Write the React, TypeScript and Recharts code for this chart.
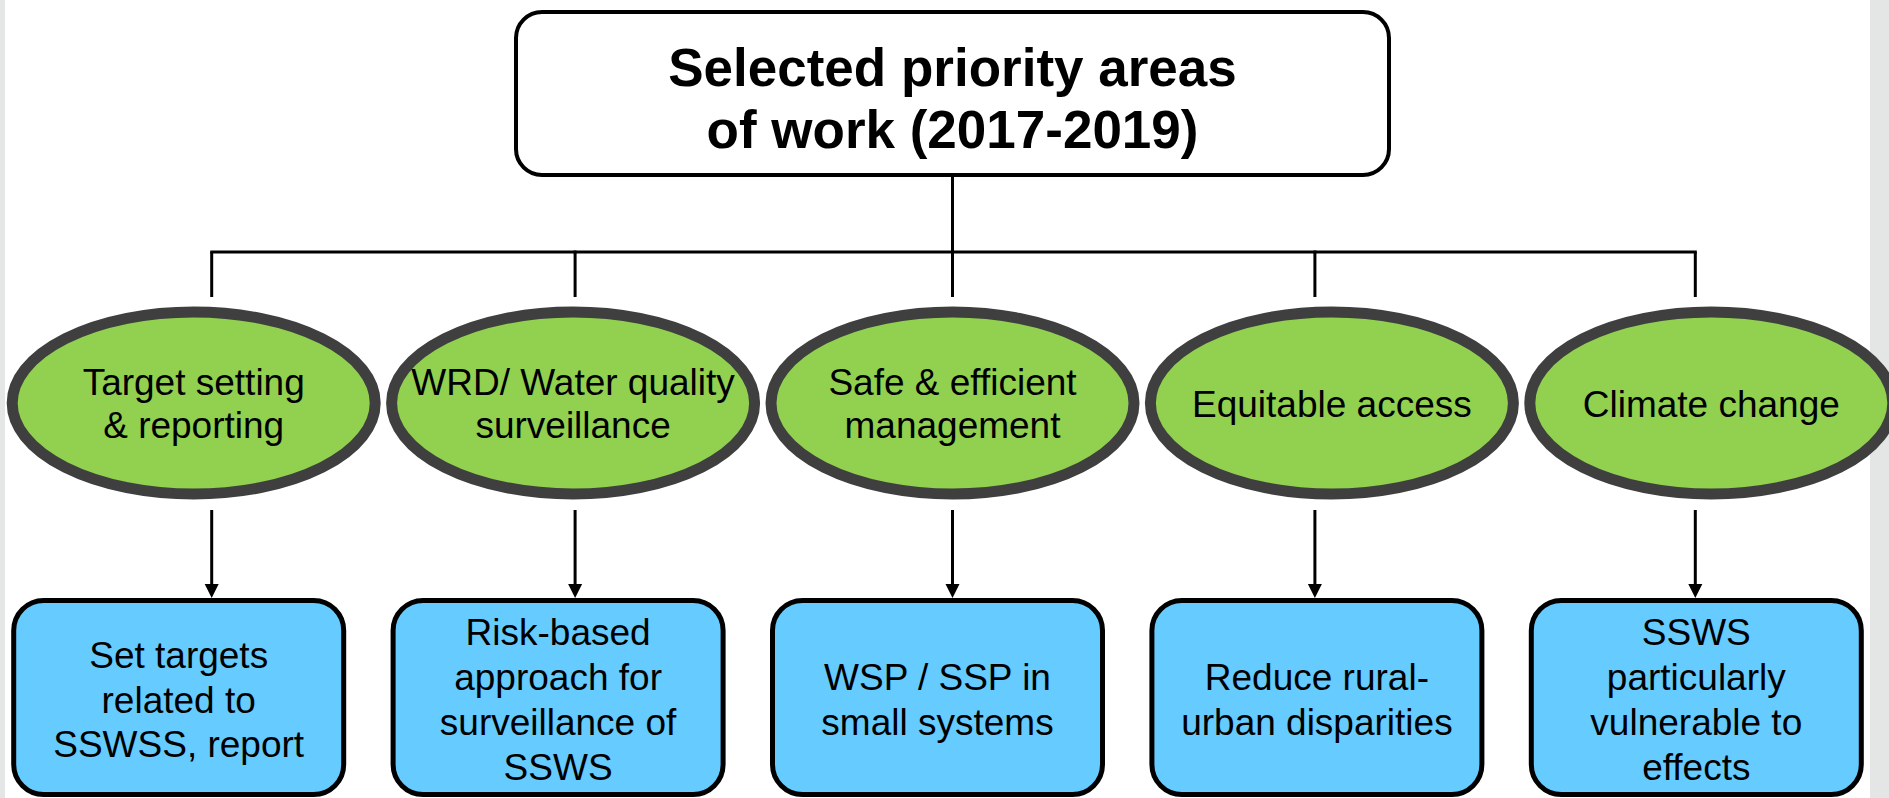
import React from 'react';
import { ScatterChart, Scatter, XAxis, YAxis } from 'recharts';

// hierarchy text, one entry per line
const titleLines = ['Selected priority areas', 'of work (2017-2019)'];

const areaLines: string[][] = [
  ['Target setting', '& reporting'],
  ['WRD/ Water quality', 'surveillance'],
  ['Safe & efficient', 'management'],
  ['Equitable access'],
  ['Climate change'],
];

const outcomeLines: string[][] = [
  ['Set targets', 'related to', 'SSWSS, report'],
  ['Risk-based', 'approach for', 'surveillance of', 'SSWS'],
  ['WSP / SSP in', 'small systems'],
  ['Reduce rural-', 'urban disparities'],
  ['SSWS', 'particularly', 'vulnerable to', 'effects'],
];

const areas = areaLines.map((l) => l.join(' '));

const titleData = [{ area: areas[2], level: 0, lines: titleLines }];
const areaData = areas.map((a, i) => ({ area: a, level: 1, lines: areaLines[i], idx: i }));
const outcomeData = areas.map((a, i) => ({ area: a, level: 2, lines: outcomeLines[i], idx: i }));

const W = 1889;
const H = 798;
const MARGIN = { top: 108.5, bottom: 100.5, left: 4, right: -12 };
const STEP = (W - MARGIN.left - MARGIN.right) / areas.length;
// connectors don't sit exactly on the ellipse centres in the original drawing
const CONN_SHIFT = [18, 2, 0, -17, -16];
const FONT = '"Liberation Sans", Arial, sans-serif';
const LINE = '#000';

const lineY = (cy: number, i: number, n: number, gap = 44.7) =>
  cy + 13.5 + (i - (n - 1) / 2) * gap;

const connX = (cx: number, i: number) => cx + CONN_SHIFT[i];

function TitleShape(props: any) {
  const { cx, cy, payload } = props;
  const c = cy - 15;
  return (
    <g>
      <line x1={cx} x2={cx} y1={c + 83} y2={c + 158} stroke={LINE} strokeWidth={3} />
      <rect x={cx - 436.5} y={c - 81.5} width={873} height={163} rx={26} fill="#fff" stroke={LINE} strokeWidth={4} />
      <text textAnchor="middle" fontFamily={FONT} fontWeight="bold" fontSize={53} fill="#000">
        {payload.lines.map((t: string, i: number) => (
          <tspan key={i} x={cx} y={c - 8 + i * 62}>{t}</tspan>
        ))}
      </text>
    </g>
  );
}

function AreaShape(props: any) {
  const { cx, cy, payload } = props;
  const i = payload.idx;
  const x = connX(cx, i);
  const lines: string[] = payload.lines;
  return (
    <g>
      {i < areas.length - 1 && (
        <line x1={x - 1.5} x2={connX(cx + STEP, i + 1) + 1.5} y1={cy - 151} y2={cy - 151} stroke={LINE} strokeWidth={3} />
      )}
      <line x1={x} x2={x} y1={cy - 151} y2={cy - 106} stroke={LINE} strokeWidth={3} />
      <ellipse cx={cx} cy={cy} rx={181.5} ry={91} fill="#92D050" stroke="#3F3F3F" strokeWidth={11} />
      <text textAnchor="middle" fontFamily={FONT} fontSize={37} fill="#000">
        {lines.map((t, k) => (
          <tspan key={k} x={cx} y={lineY(cy, k, lines.length, 43)}>{t}</tspan>
        ))}
      </text>
      <line x1={x} x2={x} y1={cy + 107} y2={cy + 183} stroke={LINE} strokeWidth={3} />
      <polygon points={`${x - 7},${cy + 181} ${x + 7},${cy + 181} ${x},${cy + 195}`} fill={LINE} />
    </g>
  );
}

function OutcomeShape(props: any) {
  const { cx, cy, payload } = props;
  const bx = cx - 15;
  const lines: string[] = payload.lines;
  return (
    <g>
      <rect x={bx - 165} y={cy - 97} width={330} height={194} rx={30} fill="#66CBFF" stroke={LINE} strokeWidth={5} />
      <text textAnchor="middle" fontFamily={FONT} fontSize={37} fill="#000">
        {lines.map((t, k) => (
          <tspan key={k} x={bx} y={lineY(cy, k, lines.length) + 1.5}>{t}</tspan>
        ))}
      </text>
    </g>
  );
}

export default function App() {
  return (
    <div style={{ position: 'absolute', left: 0, top: 0, width: W, height: H, background: '#E4E6E6', overflow: 'hidden' }}>
      <div style={{ position: 'absolute', left: 5, top: 0, width: 1865, height: H, background: '#fff' }} />
      <div style={{ position: 'absolute', left: 0, top: 0 }}>
        <ScatterChart width={W} height={H} margin={MARGIN}>
          <XAxis dataKey="area" type="category" allowDuplicatedCategory={false} hide />
          <YAxis dataKey="level" type="number" domain={[0, 2]} reversed hide />
          <Scatter data={areaData} shape={AreaShape} isAnimationActive={false} />
          <Scatter data={outcomeData} shape={OutcomeShape} isAnimationActive={false} />
          <Scatter data={titleData} shape={TitleShape} isAnimationActive={false} />
        </ScatterChart>
      </div>
    </div>
  );
}
